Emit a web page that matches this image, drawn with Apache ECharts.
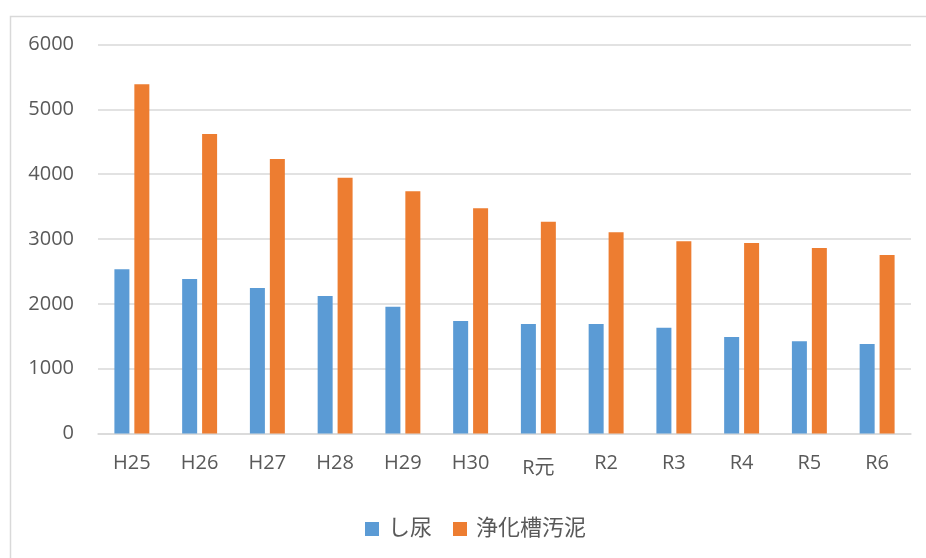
<!DOCTYPE html>
<html>
<head>
<meta charset="utf-8">
<script src="https://cdn.jsdelivr.net/npm/echarts@6/dist/echarts.min.js"></script>
<style>
html,body{margin:0;padding:0;background:#fff;}
#c{width:926px;height:558px;}
</style>
</head>
<body>
<div id="c"></div>
<script>
const categories = ['H25','H26','H27','H28','H29','H30','R元','R2','R3','R4','R5','R6'];
const seriesNames = ['し尿','浄化槽汚泥'];
const shinyo = [2533,2383,2244,2121,1956,1735,1689,1689,1632,1488,1422,1380];
const johkaso = [5386,4620,4234,3946,3736,3474,3267,3103,2964,2938,2861,2753];
const yTicks = {min:0, max:6000, interval:1000};

const FONT = "'Open Sans', 'Noto Sans CJK JP', sans-serif";
const chart = echarts.init(document.getElementById('c'), null, {renderer:'canvas'});
chart.setOption({
  backgroundColor:'#ffffff',
  animation:false,
  graphic:[{
    type:'rect', silent:true, z:-10,
    shape:{x:10.5, y:16.5, width:1000, height:1000},
    style:{fill:'none', stroke:'#d9d9d9', lineWidth:1.5}
  }],
  grid:{left:98, right:15, top:44.5, bottom:124.5, containLabel:false},
  legend:{
    top:518, left:365, padding:0,
    itemWidth:14, itemHeight:14, itemGap:21,
    icon:'rect',
    textStyle:{fontSize:22, color:'#595959', fontFamily:FONT, padding:[0,0,0,4]},
    data:seriesNames
  },
  xAxis:{
    type:'category', data:categories,
    axisLine:{show:true, lineStyle:{color:'#d9d9d9', width:1.5}},
    axisTick:{show:false},
    axisLabel:{
      interval:0, hideOverlap:false,
      fontSize:20, color:'#595959', fontFamily:FONT, margin:20,
      formatter:function(v){ return /[^\x00-\x7F]/.test(v) ? '{r|' + v + '}' : v; },
      rich:{r:{fontSize:20, color:'#595959', fontFamily:FONT, padding:[5,0,0,0]}}
    }
  },
  yAxis:{
    type:'value', min:yTicks.min, max:yTicks.max, interval:yTicks.interval,
    axisLine:{show:false}, axisTick:{show:false},
    splitLine:{lineStyle:{color:'#d9d9d9', width:1.5}},
    axisLabel:{fontSize:20, color:'#595959', fontFamily:FONT, margin:24,
      formatter:function(v){ return String(v); }}
  },
  series:[
    {name:seriesNames[0], type:'bar', data:shinyo, barWidth:15, barGap:'33%',
     itemStyle:{color:'#5B9BD5'}},
    {name:seriesNames[1], type:'bar', data:johkaso, barWidth:15, barGap:'33%',
     itemStyle:{color:'#ED7D31'}}
  ]
});
</script>
</body>
</html>
